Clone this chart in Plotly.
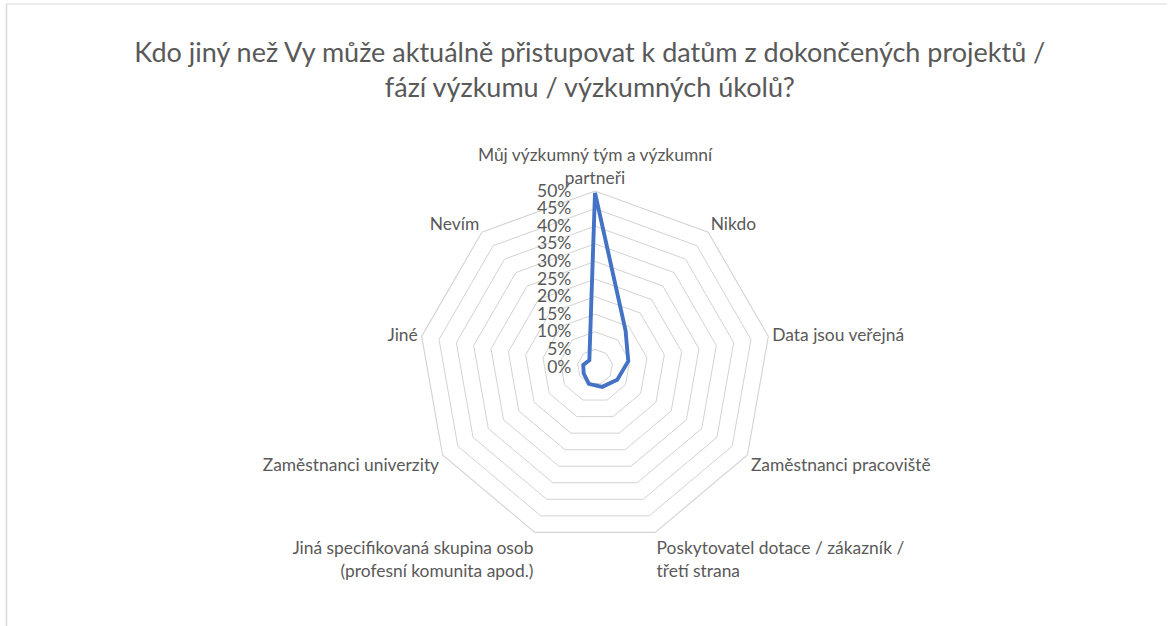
import plotly.graph_objects as go

categories = [
    "Můj výzkumný tým a výzkumní<br>partneři",
    "Nikdo",
    "Data jsou veřejná",
    "Zaměstnanci pracoviště",
    "Poskytovatel dotace / zákazník /<br>třetí strana",
    "Jiná specifikovaná skupina osob<br>(profesní komunita apod.)",
    "Zaměstnanci univerzity",
    "Jiné",
    "Nevím",
]
values = [49.5, 13.5, 9.6, 7.3, 6.0, 5.1, 3.7, 3.4, 2.5]
radial_ticks = [0, 5, 10, 15, 20, 25, 30, 35, 40, 45, 50]
radial_ticktext = [f"{v}%" for v in radial_ticks]

title_text = ("Kdo jiný než Vy může aktuálně přistupovat k datům z dokončených projektů /"
              "<br>fází výzkumu / výzkumných úkolů?")

W, H = 1168, 626
cx, cy, R = 595, 367, 176

FONT = "Lato, 'Open Sans', sans-serif"
TXT = "#595959"
GRID = "#d3d3d3"

fig = go.Figure()
fig.add_trace(go.Scatterpolar(
    r=values + values[:1],
    theta=categories + categories[:1],
    mode="lines",
    line=dict(color="#4472C4", width=3.9),
    showlegend=False,
    hoverinfo="skip",
))

fig.update_layout(
    width=W, height=H,
    margin=dict(l=0, r=0, t=0, b=0),
    paper_bgcolor="white",
    plot_bgcolor="white",
    font=dict(family=FONT, color=TXT),
    title=dict(
        text=title_text,
        x=0.505, xanchor="center",
        y=1 - 62 / H, yanchor="middle", yref="container",
        font=dict(size=27, color=TXT, family=FONT),
    ),
    polar=dict(
        domain=dict(x=[(cx - R) / W, (cx + R) / W],
                    y=[(H - cy - R) / H, (H - cy + R) / H]),
        bgcolor="white",
        gridshape="linear",
        radialaxis=dict(
            range=[0, 50],
            tickvals=radial_ticks,
            ticktext=radial_ticktext,
            angle=90,
            tickangle=90,
            side="counterclockwise",
            showline=False,
            ticks="outside",
            ticklen=17,
            tickcolor="rgba(0,0,0,0)",
            gridcolor=GRID,
            gridwidth=1.1,
            tickfont=dict(size=17.5, color=TXT, family=FONT),
        ),
        angularaxis=dict(
            rotation=90,
            direction="clockwise",
            showgrid=False,
            showline=True,
            linecolor=GRID,
            linewidth=1.1,
            ticks="",
            tickfont=dict(size=17.4, color=TXT, family=FONT),
        ),
    ),
    shapes=[
        dict(type="line", xref="paper", yref="paper",
             x0=6.5 / W, x1=1167 / W, y0=1 - 4 / H, y1=1 - 4 / H,
             line=dict(color="#d9d9d9", width=1)),
        dict(type="line", xref="paper", yref="paper",
             x0=6.5 / W, x1=6.5 / W, y0=1 - 4 / H, y1=-0.01,
             line=dict(color="#d9d9d9", width=1.5)),
    ],
)

fig.write_html(
    "out.html",
    config={"displayModeBar": False},
    post_script="document.body.style.margin='0px';document.body.style.padding='0px';",
)
